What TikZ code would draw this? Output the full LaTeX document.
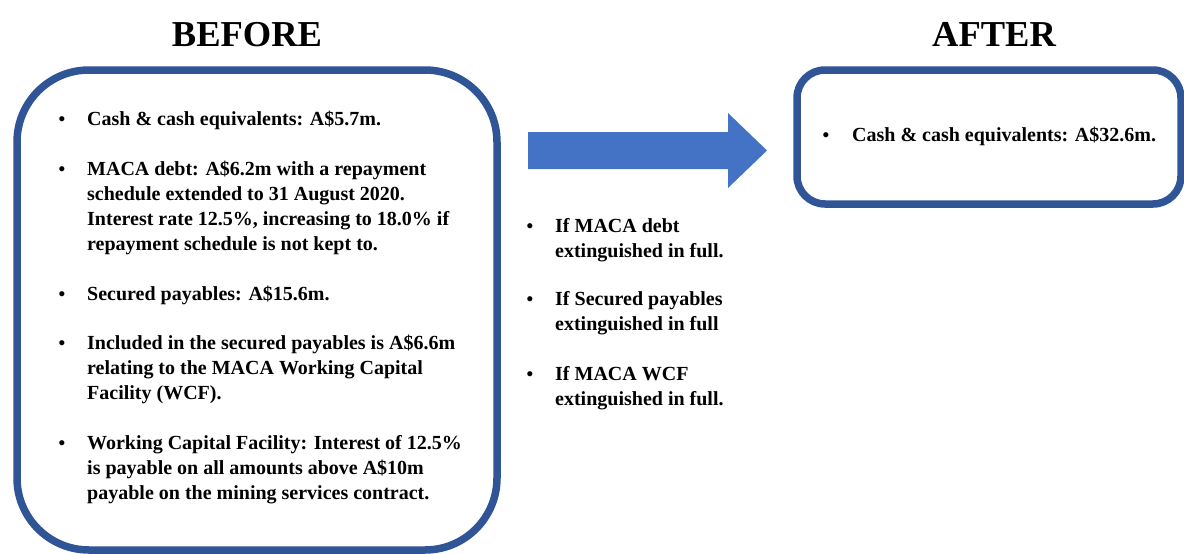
\documentclass[tikz,border=0pt]{standalone}
\usepackage{fontspec}
\setmainfont{Liberation Serif}
\definecolor{boxblue}{HTML}{2F5597}
\definecolor{arrowblue}{HTML}{4472C4}
\begin{document}
\begin{tikzpicture}[x=1pt,y=-1pt,
  title/.style={anchor=base, inner sep=0, font=\fontsize{36.5}{40}\selectfont\bfseries},
  panel/.style={draw=boxblue, line width=7.5pt, inner sep=0},
  itemtext/.style={anchor=base west, align=left, inner sep=0, font=\fontsize{20}{25}\selectfont\bfseries},
  bul/.style={anchor=base, inner sep=0, font=\fontsize{19}{19}\selectfont\bfseries}
]
\useasboundingbox (0,0) rectangle (1184,554);

% titles
\node[title] (before) at (247,46) {BEFORE};
\node[title] (after) at (994,46) {AFTER};

% panels
\node[panel, rounded corners=72pt, minimum width=480pt, minimum height=480pt] (leftbox) at (257,310) {};
\node[panel, rounded corners=28pt, minimum width=384pt, minimum height=134pt] (rightbox) at (989,137) {};

% big arrow
\fill[arrowblue] (528,132) -- (728,132) -- (728,113) -- (767,150.5) -- (728,188) -- (728,169) -- (528,169) -- cycle;

% left items (anchor = baseline of the last line)
\node[bul] (b1) at (62,125) {\textbullet};
\node[itemtext] (t1) at (87,125) {Cash \& cash equivalents: A\$5.7m.};
\node[bul] (b2) at (62,175) {\textbullet};
\node[itemtext] (t2) at (87,250) {MACA debt: A\$6.2m with a repayment\\schedule extended to 31 August 2020.\\Interest rate 12.5\%, increasing to 18.0\% if\\repayment schedule is not kept to.};
\node[bul] (b3) at (62,300) {\textbullet};
\node[itemtext] (t3) at (87,300) {Secured payables: A\$15.6m.};
\node[bul] (b4) at (62,349) {\textbullet};
\node[itemtext] (t4) at (87,399) {Included in the secured payables is A\$6.6m\\relating to the MACA Working Capital\\Facility (WCF).};
\node[bul] (b5) at (62,449) {\textbullet};
\node[itemtext] (t5) at (87,499) {Working Capital Facility: Interest of 12.5\%\\is payable on all amounts above A\$10m\\payable on the mining services contract.};

% middle items
\node[bul] (m1b) at (530,232) {\textbullet};
\node[itemtext] (m1) at (555,257) {If MACA debt\\extinguished in full.};
\node[bul] (m2b) at (530,305) {\textbullet};
\node[itemtext] (m2) at (555,330) {If Secured payables\\extinguished in full};
\node[bul] (m3b) at (530,380) {\textbullet};
\node[itemtext] (m3) at (555,405) {If MACA WCF\\extinguished in full.};

% right item
\node[bul] (r1b) at (826,141) {\textbullet};
\node[itemtext] (r1) at (852,141) {Cash \& cash equivalents: A\$32.6m.};
\end{tikzpicture}
\end{document}
